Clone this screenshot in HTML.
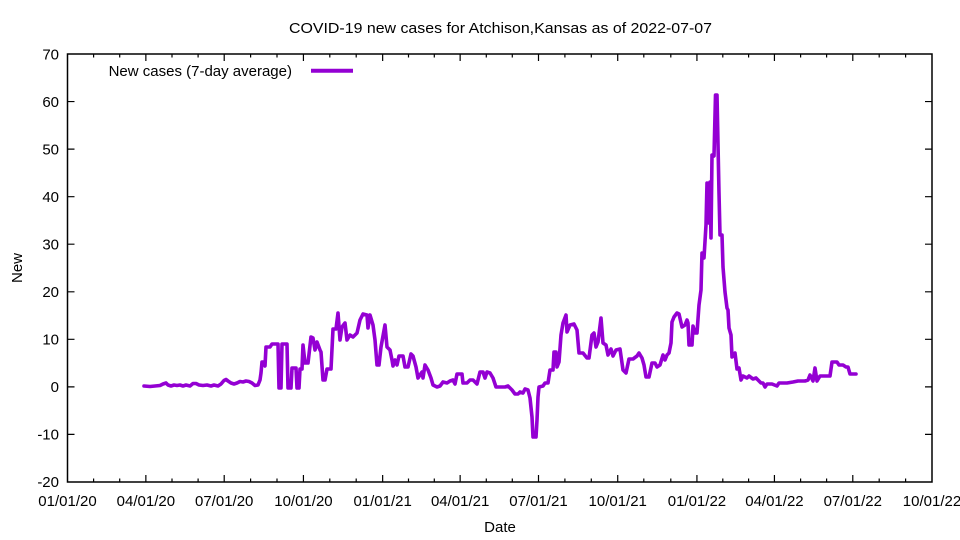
<!DOCTYPE html>
<html><head><meta charset="utf-8">
<style>
html,body{margin:0;padding:0;background:#fff;}
svg{display:block;}
text{font-family:"Liberation Sans",Arial,sans-serif;font-size:15px;fill:#000;}
</style></head>
<body>
<svg width="960" height="540" viewBox="0 0 960 540" xmlns="http://www.w3.org/2000/svg">
<rect width="960" height="540" fill="#fff"/>
<!-- title -->
<text x="289" y="33" textLength="423" lengthAdjust="spacingAndGlyphs">COVID-19 new cases for Atchison,Kansas as of 2022-07-07</text>
<!-- ticks -->
<path fill="none" stroke="#000" stroke-width="1.2" d="
M67.5 101.56h7M67.5 149.1h7M67.5 196.7h7M67.5 244.2h7M67.5 291.8h7M67.5 339.3h7M67.5 386.9h7M67.5 434.4h7
M932 101.56h-7M932 149.1h-7M932 196.7h-7M932 244.2h-7M932 291.8h-7M932 339.3h-7M932 386.9h-7M932 434.4h-7
M145.86 482v-7M224.21 482v-7M303.43 482v-7M382.65 482v-7M460.14 482v-7M538.5 482v-7M617.72 482v-7M696.93 482v-7M774.43 482v-7M852.79 482v-7
M145.86 54v7M224.21 54v7M303.43 54v7M382.65 54v7M460.14 54v7M538.5 54v7M617.72 54v7M696.93 54v7M774.43 54v7M852.79 54v7
M93.6 482v-3.5M119.7 482v-3.5M172.0 482v-3.5M198.1 482v-3.5M250.6 482v-3.5M277.0 482v-3.5M329.8 482v-3.5M356.2 482v-3.5M408.5 482v-3.5M434.3 482v-3.5M486.3 482v-3.5M512.3 482v-3.5M564.9 482v-3.5M591.3 482v-3.5M643.8 482v-3.5M670.8 482v-3.5M722.8 482v-3.5M748.6 482v-3.5M800.6 482v-3.5M826.6 482v-3.5M879.2 482v-3.5M905.6 482v-3.5
M93.6 54v3.5M119.7 54v3.5M172.0 54v3.5M198.1 54v3.5M250.6 54v3.5M277.0 54v3.5M329.8 54v3.5M356.2 54v3.5M408.5 54v3.5M434.3 54v3.5M486.3 54v3.5M512.3 54v3.5M564.9 54v3.5M591.3 54v3.5M643.8 54v3.5M670.8 54v3.5M722.8 54v3.5M748.6 54v3.5M800.6 54v3.5M826.6 54v3.5M879.2 54v3.5M905.6 54v3.5
"/>
<!-- y labels -->
<g text-anchor="end">
<text x="59" y="59.5">70</text>
<text x="59" y="107">60</text>
<text x="59" y="154.5">50</text>
<text x="59" y="202">40</text>
<text x="59" y="249.5">30</text>
<text x="59" y="297">20</text>
<text x="59" y="344.5">10</text>
<text x="59" y="392">0</text>
<text x="59" y="439.5">-10</text>
<text x="59" y="487">-20</text>
</g>
<!-- x labels -->
<g text-anchor="middle">
<text x="67.5" y="506">01/01/20</text>
<text x="145.86" y="506">04/01/20</text>
<text x="224.21" y="506">07/01/20</text>
<text x="303.43" y="506">10/01/20</text>
<text x="382.65" y="506">01/01/21</text>
<text x="460.14" y="506">04/01/21</text>
<text x="538.5" y="506">07/01/21</text>
<text x="617.72" y="506">10/01/21</text>
<text x="696.93" y="506">01/01/22</text>
<text x="774.43" y="506">04/01/22</text>
<text x="852.79" y="506">07/01/22</text>
<text x="932" y="506">10/01/22</text>
</g>
<text x="500" y="532" text-anchor="middle">Date</text>
<text transform="translate(22,268) rotate(-90)" text-anchor="middle">New</text>
<!-- legend -->
<text x="292" y="76" text-anchor="end">New cases (7-day average)</text>
<line x1="311" y1="70.7" x2="353" y2="70.7" stroke="#9400D3" stroke-width="4"/>
<!-- series -->
<polyline fill="none" stroke="#9400D3" stroke-width="3.6" stroke-linejoin="round" stroke-linecap="round" points="
144,386 150,386.5 155,386 160,385.5 163,384 166,383 168,385 171,386 174,385 177,385.5 180,385 183,386 186,385 190,386 193,383.5 196,383.5 199,385 203,385.5 207,385 211,386 214,385 218,386 221,384 224,380.5 226,379.5 228,381 231,383 234,384 237,383 240,381.5 243,382 246,381 249,381.5 252,383 255,385.5 258,385 260,380 261,373 262,362 264,362 265,366 266,347 270,347 272,344 278,344 279,388 281,388 282,344 287,344 288,388 291,388 292,368 296,368 297,388 299,388 300,369 302,369 303,345 305,363 308,363 311,337 313,338 315,350 317,342 320,350 321,352 323,380 325,380 327,369 331,369 333,329 336,329 338,313 340,340 342,327 345,323 347,340 350,335 353,337 357,333 360,320 363,314 367,315 368,328 370,315 373,325 375,340 377,365 379,365 381,347 383,336 385,325 387,347 390,350 392,360 393,366 395,360 397,365 399,356 403,356
405,367 408,367 411,354 413,356 416,367 418,378 422,372 423,378 425,365 428,370 431,378 433,385 437,387 440,386 443,382 447,383 450,381 453,380 455,384 457,374 462,374 463,383 467,383 470,380 473,380 477,384 480,372 483,372 485,378 487,372 490,373 493,378 496,387 500,387 505,387 508,386 512,390 515,394 518,394 520,392 523,393 525,389 528,390 530,398 532,417 533,437 536,437 537,420 538,397 539,387 543,386 545,383 548,383 550,370 553,370 554,352 556,352 557,367 559,362 561,335 563,323 566,315 567,332 570,325 574,324 577,330 579,353 583,353 587,358 589,358 592,335 594,333 596,347 598,342 601,318 603,343 606,345 608,355 611,349 613,356 616,350 620,349 623,370 626,373 629,359 633,359 637,356 639,353 642,358 644,365 646,377 649,377
652,363 655,363 657,367 660,365 663,355 665,360 667,355 669,353 671,343 672,322 674,317 677,313 679,314 682,327 685,325 687,320 688,323 689,345 692,345 693,326 695,333 697,333 699,305 701,290 702,253 704,258 706,225 707,183 709,223 710,182 711,238 712,155 714,156 715.5,95 717,95 719,193 720,235 722,235 723,267 725,292 727,308 728,310 729,328 731,335 732,357 735,353 737,369 739,368 741,380 743,376 747,378
749,376 753,379 756,378 758,380 761,383 763,383 765,387 767,384 772,384 777,386 779,383 787,383 793,382 798,381 805,381 808,380 810,375 813,381 815,368 817,381 820,376 830,376 832,362 837,362 839,365 843,365 846,367 848,367 850,374 856,374"/>
<!-- frame -->
<rect x="67.5" y="54" width="864.5" height="428" fill="none" stroke="#000" stroke-width="1.5"/>
</svg>
</body></html>
